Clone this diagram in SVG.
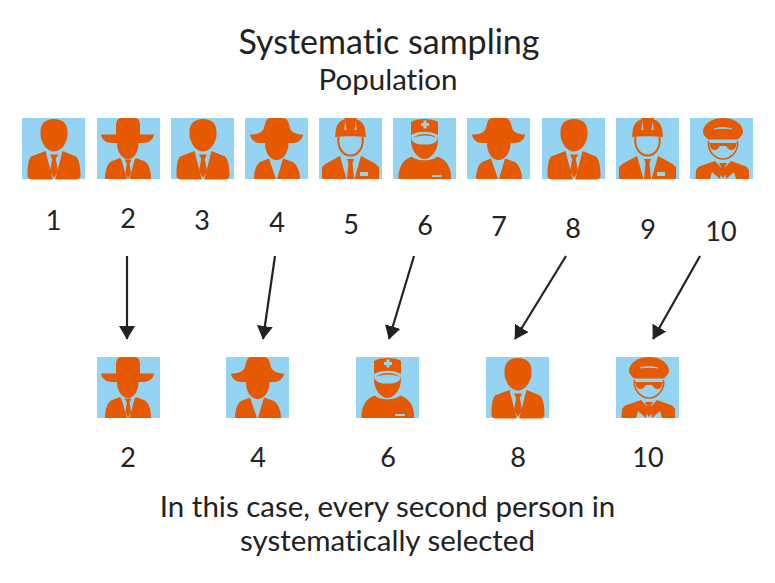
<svg xmlns="http://www.w3.org/2000/svg" width="775" height="583" viewBox="0 0 775 583">
<style>
.t{font-family:Lato,"Noto Sans",sans-serif;fill:#222;text-anchor:middle;font-variant-ligatures:none}
.bg{fill:#94d3f1}
.o{fill:#e55a00}
.b{fill:#94d3f1}
.r{fill:none;stroke:#e55a00;stroke-width:2}
.c{fill:none;stroke:#222;stroke-width:2.200}
</style>
<defs>
<marker id="a" markerUnits="userSpaceOnUse" markerWidth="14" markerHeight="16" refX="13" refY="8" orient="auto"><path d="M0 0L13.500 8L0 16Z" fill="#222"/></marker>
<symbol id="suit" overflow="visible"><rect class="bg" width="63" height="61"/>
<path class="o" d="M32 1C41 1 45.500 6 45.500 14C45.500 18 45.500 20 44 23C42 29 37 33.500 32 33.500C27 33.500 22 29 20 23C18.500 20 18.500 18 18.500 14C18.500 6 23 1 32 1Z"/>
<path class="o" d="M23.500 33L9 38.500C6 42 5.500 50 5.500 57C5.500 60 7 61.500 11 61.500L30.800 61.500ZM40.500 33L54 38.500C57.500 42 58.500 50 58.500 57C58.500 60 57 61.500 53 61.500L33.200 61.500Z"/>
<path class="o" d="M28 36.500L36 36.500L33.800 41L36 53L32 60L28 53L30.200 41Z"/></symbol>
<symbol id="hat" overflow="visible"><rect class="bg" width="63" height="61"/>
<path class="o" d="M24 0L38 0C41.500 0 43 3 43 8L43 16.500L57 16.500C56 22 52 25 46 25L41.500 25C41.500 34 37 41 31 41C25 41 20 34 20 25L15 25C9 25 5 22 4 16.500L19 16.500L19 8C19 3 21 0 24 0Z"/>
<path class="o" d="M23 40L14 43.500C10 46 8 53 8 61L30 61L24.500 42ZM39 40L48 43.500C52 46 54 53 54 61L32.500 61L37.500 42Z"/>
<path class="o" d="M27.500 41.500L34.500 41.500L32.500 45.500L34 55L31 61L28.500 55L29.800 45.500Z"/></symbol>
<symbol id="lady" overflow="visible"><rect class="bg" width="63" height="61"/>
<path class="o" d="M25 0L38 0C43 0 44 6 45 10C46 14 51 16.500 58 16.500C57 22 53 25 48 25L43.500 25C43.500 35 38 42 31.500 42C25 42 20 35 20 25L15 25C10 25 6 22 5 16.500C12 16.500 17 15 19 10C20 6 21 0 25 0Z"/>
<path class="o" d="M24 40.500L15 44C11 47 9 53 9 61L31 61ZM38 40.500L48 44C52 47 55 53 55 61L32 61Z"/></symbol>
<symbol id="helmet" overflow="visible"><rect class="bg" width="63" height="61"/>
<path class="o" d="M16.500 15C16.500 8 20 3 25 1.500L26 0L37 0L38 1.500C43 3 46.500 8 46.500 15L47 19C40 18 23 18 16 19Z"/>
<path class="b" d="M26 2L27.500 12L25.500 12ZM37 2L35.500 12L37.500 12Z"/>
<path class="r" d="M19.500 19C18 30 24 37.500 31.500 37.500C39 37.500 45 30 43.500 19"/>
<path class="o" d="M21 38L7 45.500L3 49L3 61L27.500 61ZM42 38L56 45.500L60 49L60 61L35.500 61Z"/>
<path class="o" d="M28 41L35 41L33.500 45L35 61L28 61L29.500 45Z"/>
<rect class="b" x="41" y="54" width="8" height="4"/></symbol>
<symbol id="nurse" overflow="visible"><rect class="bg" width="63" height="61"/>
<path class="o" d="M18 4C24 0 39 0 45 4L45 17C38 12.500 25 12.500 18 17Z"/>
<path class="b" d="M30.500 2.500H33.500V5H36V8H33.500V10.500H30.500V8H28V5H30.500Z"/>
<path class="o" d="M18.500 17.500C16 30 24 41 31.500 41C39 41 47 30 44.500 17.500C46 24 40 27 31.500 26.500C23 27 17 24 18.500 17.500Z"/>
<path class="o" d="M20 20C26 14.500 38 14.500 44 20C38 16.500 26 16.500 20 20Z"/>
<path class="o" d="M5.500 61C5 50 10 41 19 38.500C23 43.500 40 43.500 44 38.500C53 41 59 50 58 61Z"/>
<rect class="b" x="39" y="57" width="10" height="2" rx="1"/></symbol>
<symbol id="pilot" overflow="visible"><rect class="bg" width="63" height="61"/>
<path class="o" d="M13 14C13 6 22 0 33 0C44 0 53 6 53 14C53 17 50 19 48 21.500L18 21.500C16 19 13 17 13 14Z"/>
<path class="b" d="M24 11C29 9 36 9 42 11C36 10.200 29 10.200 24 11Z" stroke="#94d3f1" stroke-width=".7"/>
<path class="o" d="M19 25L47 25L46 27C46 32 41 33 38.500 31L36 28L30 28L27.500 31C25 33 20 32 20 27Z"/>
<path class="r" style="stroke-width:1.500" d="M18.500 23C17 33 25 41 33 41C41 41 49 33 47.500 23"/>
<path class="o" d="M25 43L9 48.500L6 52L5.500 61L20 61L22 54L30 61L31.500 50ZM41 43L56 48.500L59 52L59 61L46 61L44 54L36 61L34.500 50Z"/>
<path class="o" d="M29 45L37 45L34.800 49L36 56L33 60L30 56L31.200 49Z"/></symbol>
</defs>
<text class="t" x="389" y="54" font-size="34">Systematic sampling</text>
<text class="t" x="388" y="90" font-size="29.500">Population</text>
<g id="p1"><use href="#suit" x="22" y="118"/></g>
<g id="p2"><use href="#hat" x="97" y="118"/></g>
<g id="p3"><use href="#suit" x="171" y="118"/></g>
<g id="p4"><use href="#lady" x="245" y="118"/></g>
<g id="p5"><use href="#helmet" x="319" y="118"/></g>
<g id="p6"><use href="#nurse" x="393" y="118"/></g>
<g id="p7"><use href="#lady" x="467" y="118"/></g>
<g id="p8"><use href="#suit" x="542" y="118"/></g>
<g id="p9"><use href="#helmet" x="616" y="118"/></g>
<g id="p10"><use href="#pilot" x="690" y="118"/></g>
<g font-size="27">
<text class="t" x="53.500" y="230">1</text><text class="t" x="128" y="228">2</text><text class="t" x="202" y="230">3</text><text class="t" x="277" y="232">4</text><text class="t" x="351" y="234">5</text><text class="t" x="425" y="235">6</text><text class="t" x="499" y="236">7</text><text class="t" x="573" y="238">8</text><text class="t" x="648" y="239">9</text><text class="t" x="721" y="241">10</text>
</g>
<g id="connectors">
<path class="c" marker-end="url(#a)" d="M127 256V339"/>
<path class="c" marker-end="url(#a)" d="M275 256L263 339"/>
<path class="c" marker-end="url(#a)" d="M414 256L389 339"/>
<path class="c" marker-end="url(#a)" d="M566 256L515 339"/>
<path class="c" marker-end="url(#a)" d="M700 256L653 339"/>
</g>
<g id="s2"><use href="#hat" x="97" y="357"/></g>
<g id="s4"><use href="#lady" x="226" y="357"/></g>
<g id="s6"><use href="#nurse" x="356" y="357"/></g>
<g id="s8"><use href="#suit" x="486" y="357"/></g>
<g id="s10"><use href="#pilot" x="616" y="357"/></g>
<g font-size="27">
<text class="t" x="128" y="467">2</text><text class="t" x="258" y="467">4</text><text class="t" x="388" y="467">6</text><text class="t" x="518" y="467">8</text><text class="t" x="648" y="467">10</text>
</g>
<text class="t" x="387.500" y="517" font-size="29.500">In this case, every second person in</text>
<text class="t" x="387.500" y="551" font-size="29.500">systematically selected</text>
</svg>
